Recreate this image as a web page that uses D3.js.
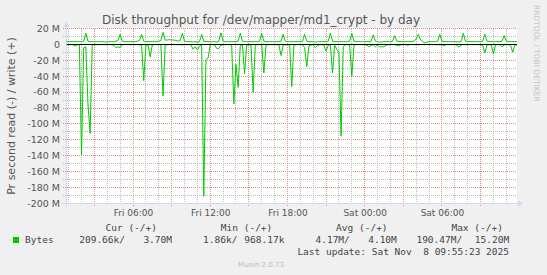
<!DOCTYPE html>
<html>
<head>
<meta charset="utf-8">
<script src="https://cdnjs.cloudflare.com/ajax/libs/d3/7.8.5/d3.min.js"></script>
<style>
  body { margin: 0; background: #f0f0f0; }
  svg { display: block; }
</style>
</head>
<body>
<script>
// samples every 10 minutes, values in MB/s
var startTime = new Date(2025, 10, 7, 0, 50);
var stepMinutes = 10;

var writeMB = [
  3.5,3.5,3.5,3.5,3.5,3.5,3.5,3.5,4,14,4,3.5,
  3.5,3.5,3.5,3.5,3.5,3.5,3,3,3.5,3.5,3.5,4,
  5,12.7,4,3.5,3.5,3.5,3.5,3.5,3.5,4,5,12.7,
  4,3.5,3.5,3.5,3.5,3.5,3.5,4,5,15.2,5.5,5.5,
  6,5.5,5.5,5,4,5,14,4,3.5,3.5,3.5,3,
  3.5,3,3.5,12.7,4,3.5,3.5,3.5,3.5,3.5,3,4,
  14.5,4,3.5,3.5,3.5,3.5,3.5,3.5,4,14,4,3.5,
  3.5,3.5,3.5,3.5,3.5,3.5,4,14,4,3.5,3.5,3.5,
  3.5,3.5,3.5,3.5,4,12.7,4,3.5,3.5,3.5,3.5,3.5,
  3.5,3.5,4,12.7,4,3.5,3.5,3.5,3,3.5,3.5,3.5,
  3.5,3.5,4,14,4,3.5,3.5,3.5,3.5,3.5,3.5,3.5,
  4,14,4,3.5,3.5,3.5,3.5,3.5,3.5,3.5,4,12,
  4,3.5,3,3,3.5,3.5,3.5,3.5,4,11,4,3.5,
  3.5,3.5,3.5,3.5,3.5,3.5,4,7,12.7,6,3.5,2,
  3,3.5,3.5,3.5,3.5,4,12.7,4,3.5,3.5,3.5,3.5,
  3.5,3.5,3.5,3,4,14,4,3.5,3.5,3.5,3.5,3.5,
  3.5,3.5,4,12.7,4,3.5,3.5,3.5,3.5,3.5,3.5,4,
  11,4,3.5,3.5,3.5,3.5,3.5
];

var readMB = [
  0.3,0.3,0.3,0.5,2,0.5,0.3,139,4,3,74,112,
  0.5,0.3,0.3,0.3,0.3,0.3,0.3,0.3,0.3,0.5,1,4,
  3,4,0.5,0.3,0.3,0.3,0.3,0.3,0.3,0.3,0.5,1,
  45.6,1,0.5,15.7,0.5,0.3,0.3,0.3,0.5,64.6,1,0.3,
  0.3,0.3,0.3,0.3,0.3,0.3,0.5,0.5,0.3,0.3,0.5,6,
  3,7,2,1,191,19,17,0.5,0.3,0.5,5,5,
  1,0.3,0.3,0.3,0.3,1,74.7,25,54,2,0.5,37,
  1,0.5,1,60,1,0.3,0.3,0.5,36,1,0.3,0.3,
  0.3,0.3,0.3,0.5,14,1,0.5,0.3,1,53,1,0.3,
  0.3,0.3,0.5,4,28,2,0.5,0.5,4,1,0.5,0.3,
  1,8.5,1,0.5,36,1,6,10,115,3,0.5,0.3,
  1,40,1,0.3,0.3,0.3,0.3,0.5,1,3,1,0.5,
  3,1,3,3,3,1,0.5,0.3,0.3,0.5,1,2,
  0.3,0.3,0.3,1,0.3,0.3,0.3,0.3,0.5,0.3,0.3,0.3,
  0.3,0.3,0.3,0.3,0.3,0.3,0.5,0.5,2,0.3,0.3,0.3,
  0.3,0.3,1,3.5,0.5,0.3,0.3,0.3,0.3,0.3,0.3,0.3,
  0.3,0.5,1,10.6,1,0.3,0.5,12,0.5,0.3,0.5,3,
  0.5,0.3,0.3,1,9.8,0.5,0.3
];

var yTicks = [20, 0, -20, -40, -60, -80, -100, -120, -140, -160, -180, -200];
var xLabels = ["Fri 06:00", "Fri 12:00", "Fri 18:00", "Sat 00:00", "Sat 06:00"];
var legendHeads = ["Cur (-/+)", "Min (-/+)", "Avg (-/+)", "Max (-/+)"];
var readStats = ["209.66k/", "1.86k/", "4.17M/", "190.47M/"];
var writeStats = ["3.70M", "968.17k", "4.10M", "15.20M"];
var seriesName = "Bytes";
var lastUpdate = "Last update: Sat Nov  8 09:55:23 2025";

var W = 547, H = 275;
var green = "#00cc00";
var axisCol = "#cfd6f8";
var fontCol = "#555";
var majorCol = "#e48a8a";
var minorCol = "#b8b8b8";

var endTime = new Date(startTime.getTime() + 35 * 3600 * 1000);
var times = writeMB.map(function(d, i) {
  return new Date(startTime.getTime() + i * stepMinutes * 60000);
});

var svg = d3.select("body").append("svg")
  .attr("width", W)
  .attr("height", H)
  .style("font-family", "DejaVu Sans");

var x = d3.scaleTime().domain([startTime, endTime]).range([66.5, 517]);
var y = d3.scaleLinear().domain([-200, 20]).range([203.5, 28.5]);

function px(v) { return Math.floor(v) + 0.5; }

svg.append("rect")
  .attr("x", 66.5).attr("y", 28.5)
  .attr("width", 517 - 66.5).attr("height", 203.5 - 28.5)
  .attr("fill", "#fff");

// grid, dotted
var grid = svg.append("g").attr("shape-rendering", "crispEdges");
d3.range(-200, 21, 10).forEach(function(v) {
  if (v == 0) return;
  grid.append("line")
    .attr("x1", 63).attr("x2", 517)
    .attr("y1", px(y(v))).attr("y2", px(y(v)))
    .attr("stroke", v % 20 == 0 ? majorCol : minorCol)
    .attr("stroke-dasharray", "1,1");
});
d3.timeHour.range(startTime, endTime).forEach(function(t) {
  var major = t.getHours() % 3 == 0;
  grid.append("line")
    .attr("x1", px(x(t))).attr("x2", px(x(t)))
    .attr("y1", 29).attr("y2", major ? 206 : 203)
    .attr("stroke", major ? majorCol : minorCol)
    .attr("stroke-dasharray", "1,1");
});

// axes
svg.append("line")
  .attr("x1", 62).attr("x2", 518)
  .attr("y1", 203.5).attr("y2", 203.5)
  .attr("stroke", axisCol);
svg.append("path")
  .attr("d", "M518,200.5L523,203.5L518,206.5Z")
  .attr("fill", axisCol);
svg.append("line")
  .attr("x1", 66.5).attr("x2", 66.5)
  .attr("y1", 207).attr("y2", 27)
  .attr("stroke", axisCol);
svg.append("path")
  .attr("d", "M63.5,27L66.5,22L69.5,27Z")
  .attr("fill", axisCol);

// y tick labels
svg.append("g").selectAll("text")
  .data(yTicks)
  .enter().append("text")
  .attr("x", 60)
  .attr("y", function(d) { return y(d); })
  .attr("dy", "0.35em")
  .attr("text-anchor", "end")
  .attr("font-size", "9.5px")
  .attr("fill", fontCol)
  .text(function(d) { return d == 0 ? "0" : d + " M"; });

// x labels
var xAxis = d3.axisBottom(x)
  .tickValues(d3.timeHour.every(6).range(startTime, endTime))
  .tickSize(0)
  .tickFormat(function(d, i) { return xLabels[i]; });
var gx = svg.append("g").attr("transform", "translate(0,207)").call(xAxis);
gx.select(".domain").remove();
gx.selectAll("text")
  .attr("font-family", "DejaVu Sans")
  .attr("font-size", "9px")
  .attr("fill", fontCol);

// data
var line = d3.line()
  .x(function(d, i) { return x(times[i]); })
  .y(function(d) { return y(d); });

svg.append("path")
  .datum(readMB.map(function(v) { return -v; }))
  .attr("d", line)
  .attr("fill", "none")
  .attr("stroke", green)
  .attr("stroke-width", 1);
svg.append("path")
  .datum(writeMB)
  .attr("d", line)
  .attr("fill", "none")
  .attr("stroke", green)
  .attr("stroke-width", 1);

svg.append("line")
  .attr("x1", 66.5).attr("x2", 517)
  .attr("y1", px(y(0))).attr("y2", px(y(0)))
  .attr("stroke", "#000")
  .attr("shape-rendering", "crispEdges");

// titles
svg.append("text")
  .attr("x", 261).attr("y", 24)
  .attr("text-anchor", "middle")
  .attr("font-size", "12px")
  .attr("fill", fontCol)
  .text("Disk throughput for /dev/mapper/md1_crypt - by day");

svg.append("text")
  .attr("transform", "translate(15,116) rotate(-90)")
  .attr("text-anchor", "middle")
  .attr("font-size", "11px")
  .attr("fill", fontCol)
  .text("Pr second read (-) / write (+)");

svg.append("text")
  .attr("transform", "translate(534,5) rotate(90)")
  .attr("font-size", "7.5px")
  .attr("fill", "#c4c4c4")
  .text("RRDTOOL / TOBI OETIKER");

// legend
var leg = svg.append("g")
  .style("font-family", "DejaVu Sans Mono")
  .attr("font-size", "9.5px")
  .attr("fill", "#444");

leg.selectAll(".head")
  .data(legendHeads)
  .enter().append("text")
  .attr("x", function(d, i) { return 157 + i * 115.3; })
  .attr("y", 231)
  .attr("text-anchor", "end")
  .text(function(d) { return d; });

leg.append("rect")
  .attr("x", 13).attr("y", 237)
  .attr("width", 6).attr("height", 6)
  .attr("fill", green);
leg.append("text").attr("x", 25).attr("y", 243).text(seriesName);

leg.selectAll(".rd")
  .data(readStats)
  .enter().append("text")
  .attr("x", function(d, i) { return 125 + i * 112.4; })
  .attr("y", 243)
  .attr("text-anchor", "end")
  .text(function(d) { return d; });

leg.selectAll(".wr")
  .data(writeStats)
  .enter().append("text")
  .attr("x", function(d, i) { return 172 + i * 112.4; })
  .attr("y", 243)
  .attr("text-anchor", "end")
  .text(function(d) { return d; });

leg.append("text")
  .attr("x", 509).attr("y", 255)
  .attr("text-anchor", "end")
  .attr("xml:space", "preserve")
  .style("white-space", "pre")
  .text(lastUpdate);

svg.append("text")
  .attr("x", 261).attr("y", 267)
  .attr("text-anchor", "middle")
  .attr("font-size", "7px")
  .attr("fill", "#bbb")
  .text("Munin 2.0.73");
</script>
</body>
</html>
